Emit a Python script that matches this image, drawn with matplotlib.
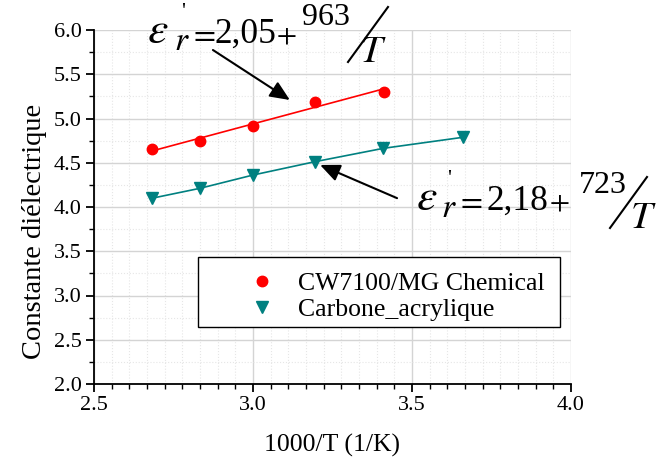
import numpy as np
import matplotlib
matplotlib.use("Agg")
import matplotlib.pyplot as plt
from matplotlib.ticker import MultipleLocator, AutoMinorLocator, FormatStrFormatter
from matplotlib.lines import Line2D
from matplotlib.patches import Rectangle

plt.rcParams['font.family'] = ['Liberation Serif', 'DejaVu Serif']
plt.rcParams['mathtext.fontset'] = 'stix'

# data
x_cw = [2.681, 2.833, 3.001, 3.195, 3.412]
y_cw = [4.652, 4.749, 4.919, 5.190, 5.303]
x_ca = [2.681, 2.833, 3.001, 3.195, 3.410, 3.661]
y_ca = [4.098, 4.211, 4.362, 4.512, 4.663, 4.788]
fit_cw = (2.05, 0.963)   # eps = a + b*(1000/T)
labels = ['CW7100/MG Chemical', 'Carbone_acrylique']

fig = plt.figure(figsize=(6.56, 4.59), dpi=100)
ax = fig.add_axes([94/656, 1-384/459, 477/656, 354/459])

red = '#ff0000'
teal = '#008080'

xf = np.array([x_cw[0], x_cw[-1]])
ax.plot(xf, fit_cw[0] + fit_cw[1]*xf, color=red, lw=1.2, zorder=3)
ax.plot(x_cw, y_cw, 'o', color=red, ms=7.5, ls='none', label=labels[0], zorder=4)
ax.plot(x_ca, y_ca, color=teal, lw=1.2, zorder=3)
ax.plot(x_ca, y_ca, 'v', color=teal, ms=8.5, ls='none', label=labels[1], zorder=4)

ax.set_xlim(2.5, 4.0)
ax.set_ylim(2.0, 6.0)
ax.xaxis.set_major_locator(MultipleLocator(0.5))
ax.xaxis.set_minor_locator(AutoMinorLocator(9))
ax.yaxis.set_major_locator(MultipleLocator(0.5))
ax.yaxis.set_minor_locator(AutoMinorLocator(2))
ax.xaxis.set_major_formatter(FormatStrFormatter('%.1f'))
ax.yaxis.set_major_formatter(FormatStrFormatter('%.1f'))

for s in ['top', 'right']:
    ax.spines[s].set_visible(False)
for s in ['left', 'bottom']:
    ax.spines[s].set_linewidth(1.3)
ax.tick_params(which='major', direction='out', length=6, width=1.3, labelsize=16, pad=3)
ax.tick_params(which='minor', direction='out', length=3.5, width=1.0)

ax.grid(True, which='major', color='#d4d4d4', lw=1.0, ls='-')
ax.grid(True, which='minor', color='#e6e6e6', lw=0.8, ls=':')
ax.set_axisbelow(True)
fig.canvas.draw()
ax.xaxis.get_gridlines()[-1].set_visible(False)
ax.yaxis.get_gridlines()[-1].set_visible(False)

ax.set_xlabel('1000/T (1/K)', fontsize=18.5, labelpad=13)
ax.set_ylabel('Constante diélectrique', fontsize=20.5)
ax.yaxis.set_label_coords(-0.0985, 0.432)

# pixel -> axes / figure fractions
def ax_x(px):
    return (px - 94) / 477
def ax_y(py):
    return (384 - py) / 354
def fx(px):
    return px / 656
def fy(py):
    return 1 - py / 459

# legend frame drawn separately so the entries can sit where they do in the original
ax.add_patch(Rectangle((ax_x(198), ax_y(327)), ax_x(560) - ax_x(198), ax_y(257) - ax_y(327),
                       transform=ax.transAxes, fill=True, facecolor='white',
                       edgecolor='black', lw=1.0, zorder=5))
leg = ax.legend(loc='center left', bbox_to_anchor=(ax_x(236), ax_y(296.5)),
                fontsize=18.5, frameon=False, borderaxespad=0, borderpad=0,
                handletextpad=0.43, labelspacing=0.15, handlelength=2.0)
leg.set_zorder(6)

# equations, placed piece by piece (pixel positions)
def equation(x, y_base, const, num, y_num, slash, y_t):
    x_eps, x_r, x_pr, x_eq, x_const, x_plus, x_num, x_t = x
    fig.text(fx(x_eps), fy(y_base), r"$\varepsilon$", fontsize=33, va='baseline')
    fig.text(fx(x_r), fy(y_base + 7), r"$r$", fontsize=24, va='baseline')
    fig.text(fx(x_pr), fy(y_base - 26), "'", fontsize=16, va='baseline')
    fig.text(fx(x_eq), fy(y_base), r"$=$", fontsize=23, va='baseline')
    fig.text(fx(x_const), fy(y_base), const, fontsize=25.5, va='baseline')
    fig.text(fx(x_plus), fy(y_base), r"$+$", fontsize=21, va='baseline')
    fig.text(fx(x_num), fy(y_num), num, fontsize=23, va='baseline')
    fig.add_artist(Line2D([fx(slash[0]), fx(slash[2])], [fy(slash[1]), fy(slash[3])],
                          color='black', lw=1.5))
    fig.text(fx(x_t), fy(y_t), r"$T$", fontsize=28, va='baseline')

equation((147, 174, 181, 189, 214, 276, 302, 360), 43, "2,05", "963", 25,
         (348, 62, 388, 7), 62)
equation((416, 441, 447, 456, 486, 549, 579, 630), 210, "2,18", "723", 193,
         (610, 228, 647, 177), 228)

arrow = dict(arrowstyle='-|>,head_length=0.8,head_width=0.35', color='black', lw=1.5,
             shrinkA=0, shrinkB=0, mutation_scale=15)
ax.annotate('', xy=(3.116, 5.209), xytext=(2.874, 5.774), arrowprops=arrow, annotation_clip=False)
ax.annotate('', xy=(3.211, 4.475), xytext=(3.453, 4.10), arrowprops=arrow, annotation_clip=False)

fig.savefig('out.png', dpi=100)
